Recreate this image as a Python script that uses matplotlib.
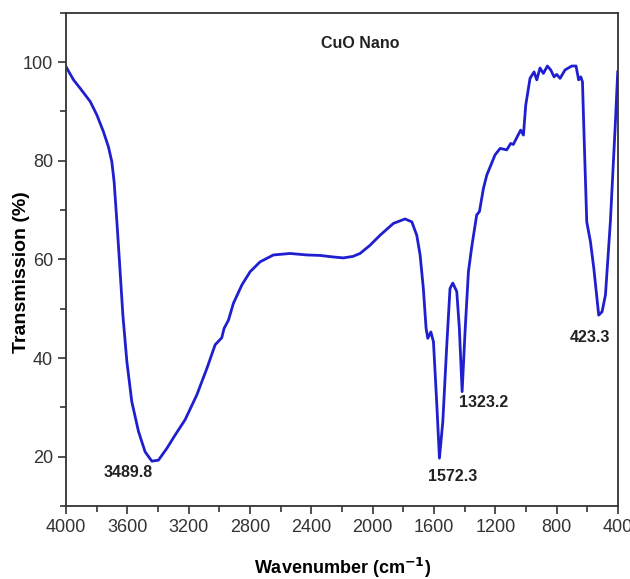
import numpy as np
import matplotlib.pyplot as plt
from matplotlib.ticker import MultipleLocator

plt.rcParams['font.family'] = ['Liberation Sans', 'DejaVu Sans']

# FTIR trace (wavenumber, transmission %)
wn = [4000, 3952, 3909, 3843, 3800, 3757, 3724, 3702, 3687, 3669, 3652, 3630,
      3604, 3572, 3528, 3485, 3441, 3398, 3343, 3289, 3224, 3148, 3082, 3028,
      2985, 2970, 2941, 2909, 2854, 2800, 2735, 2648, 2539, 2430, 2343, 2260,
      2193, 2130, 2083, 2020, 1952, 1865, 1789, 1745, 1713, 1691, 1670, 1652,
      1641, 1621, 1604, 1582, 1565, 1543, 1517, 1496, 1478, 1452, 1435, 1417,
      1398, 1376, 1354, 1322, 1304, 1278, 1256, 1202, 1169, 1126, 1100, 1083,
      1057, 1035, 1017, 1002, 974, 948, 930, 909, 887, 861, 839, 817, 800,
      778, 746, 702, 674, 657, 643, 632, 621, 604, 580, 558, 526, 504, 482,
      450, 417, 402]
tr = [99.0, 96.4, 94.7, 92.0, 89.3, 85.9, 82.8, 79.8, 75.7, 67.6, 59.5, 48.7,
      39.3, 31.2, 25.1, 21.0, 19.1, 19.3, 21.7, 24.4, 27.5, 32.5, 37.9, 42.7,
      44.1, 46.0, 47.7, 51.1, 54.8, 57.5, 59.5, 60.9, 61.2, 60.9, 60.8, 60.5,
      60.3, 60.6, 61.2, 62.8, 64.9, 67.3, 68.2, 67.6, 64.9, 60.9, 54.1, 46.0,
      44.0, 45.3, 43.3, 30.5, 19.7, 27.1, 42.7, 54.1, 55.2, 53.5, 46.0, 33.2,
      45.3, 57.5, 62.6, 69.0, 69.7, 74.4, 77.1, 81.2, 82.5, 82.2, 83.5, 83.3,
      84.9, 86.2, 85.2, 91.3, 96.7, 98.0, 96.4, 98.8, 97.7, 99.2, 98.4, 97.0,
      97.5, 96.7, 98.4, 99.2, 99.2, 96.4, 97.0, 96.0, 84.5, 67.6, 63.6, 58.2,
      48.7, 49.4, 52.8, 67.6, 87.9, 98.0]

peak_labels = ['3489.8', '1572.3', '1323.2', '423.3']
label_x = [3596, 1476, 1280, 583]
label_y = [16.7, 15.9, 30.9, 44.1]

fig = plt.figure(figsize=(6.3, 5.79), dpi=100)
ax = fig.add_axes([0.105, 0.126, 0.876, 0.852])

ax.plot(wn, tr, color='#1f1fcf', lw=2, solid_joinstyle='round')

for t, x, y in zip(peak_labels, label_x, label_y):
    ax.text(x, y, t, ha='center', va='center', fontsize=11.5, fontweight='bold',
            color='#222222')
ax.text(2083, 103.8, 'CuO Nano', ha='center', va='center', fontsize=11.5,
        fontweight='bold', color='#222222')

ax.set_xlim(4000, 400)
ax.set_ylim(10, 110)
ax.xaxis.set_major_locator(MultipleLocator(400))
ax.xaxis.set_minor_locator(MultipleLocator(200))
ax.yaxis.set_minor_locator(MultipleLocator(10))
ax.set_yticks([20, 40, 60, 80, 100])
ax.tick_params(which='major', direction='out', length=6, width=1.2,
               labelsize=13, colors='#333333', labelcolor='#333333')
ax.tick_params(which='minor', direction='out', length=4, width=1.2,
               colors='#333333')
for s in ax.spines.values():
    s.set_linewidth(1.3)
    s.set_color('#333333')

ax.set_xlabel('Wavenumber (cm$^{\\mathbf{-1}}$)', fontsize=13,
              fontweight='bold')
ax.xaxis.set_label_coords(0.5, -0.102)
ax.set_ylabel('Transmission (%)', fontsize=14, fontweight='bold')
ax.yaxis.set_label_coords(-0.066, 0.475)

fig.savefig('out.png', dpi=100)
